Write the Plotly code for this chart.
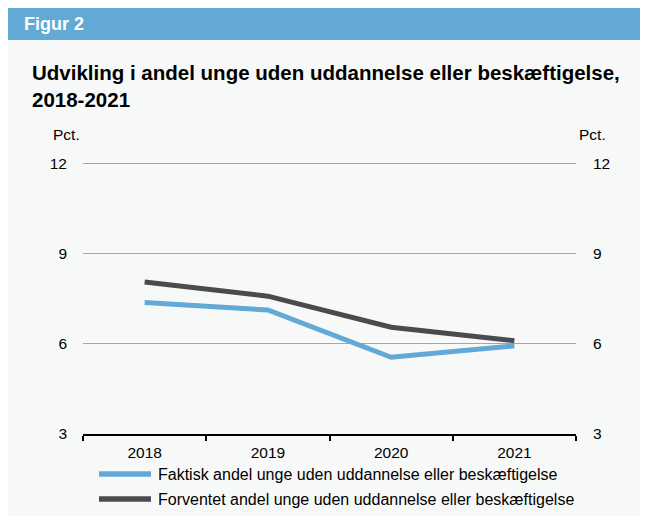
import plotly.graph_objects as go

years = ["2018", "2019", "2020", "2021"]
faktisk = [7.37, 7.12, 5.55, 5.93]
forventet = [8.05, 7.58, 6.55, 6.1]
y_ticks = [3, 6, 9, 12]
names = [
    "Faktisk andel unge uden uddannelse eller beskæftigelse",
    "Forventet andel unge uden uddannelse eller beskæftigelse",
]

blue = "#62a9d6"
dark = "#4a4b50"
bg = "#f7f9f9"
font = "Liberation Sans, Arial, sans-serif"

# figure is 640x508, the page adds an 8px white margin top/left
W, H = 640, 508
L, R, T, B = 75, 72, 154, 82
PW, PH = W - L - R, H - T - B


def px(x):
    return (x - L) / PW


def py(y):
    return 1 - (y - T) / PH


fig = go.Figure()
for vals, name, col in [(faktisk, names[0], blue), (forventet, names[1], dark)]:
    fig.add_trace(go.Scatter(x=years, y=vals, mode="lines", name=name,
                             line=dict(color=col, width=5)))
# right axis only for the tick labels
fig.add_trace(go.Scatter(x=years, y=forventet, yaxis="y2", mode="lines",
                         line=dict(width=0), showlegend=False, hoverinfo="skip"))

fig.update_layout(
    width=W, height=H,
    paper_bgcolor=bg, plot_bgcolor=bg,
    font=dict(family=font, size=15.5, color="#000"),
    margin=dict(l=L, r=R, t=T, b=B),
    showlegend=False,
    xaxis=dict(
        type="category", range=[-0.5, 3.5], tickson="boundaries",
        ticks="outside", ticklen=5, tickwidth=2, tickcolor="#000",
        showline=True, linecolor="#000", linewidth=2, showgrid=False,
        ticklabelstandoff=3,
    ),
    yaxis=dict(
        range=[3, 12.04], tickvals=y_ticks, showgrid=True, gridcolor="#a6a6a6", gridwidth=1,
        zeroline=False, showline=False, ticks="", ticklabelstandoff=15,
    ),
    yaxis2=dict(
        range=[3, 12.04], tickvals=y_ticks, overlaying="y", side="right", showgrid=False,
        zeroline=False, showline=False, ticks="", ticklabelstandoff=16,
    ),
)

# header bar
fig.add_shape(type="rect", xref="paper", yref="paper", layer="below",
              x0=px(0), x1=px(W), y0=py(32), y1=py(0),
              fillcolor=blue, line_width=0)
fig.add_annotation(text="<b>Figur 2</b>", xref="paper", yref="paper", x=px(14), y=py(16),
                   xanchor="left", yanchor="middle", showarrow=False,
                   font=dict(size=18, color="white"))
fig.add_annotation(text="<b>Udvikling i andel unge uden uddannelse eller beskæftigelse,<br>2018-2021</b>",
                   xref="paper", yref="paper", x=px(22), y=py(78),
                   xanchor="left", yanchor="middle", align="left", showarrow=False,
                   font=dict(size=20.5, color="black"))
fig.add_annotation(text="Pct.", xref="paper", yref="paper", x=px(43), y=py(127),
                   xanchor="left", yanchor="middle", showarrow=False, font=dict(size=15.5))
fig.add_annotation(text="Pct.", xref="paper", yref="paper", x=px(600), y=py(127),
                   xanchor="right", yanchor="middle", showarrow=False, font=dict(size=15.5))

# legend
for i, (name, col) in enumerate([(names[0], blue), (names[1], dark)]):
    yy = 466 + 25 * i
    fig.add_shape(type="line", xref="paper", yref="paper", x0=px(91), x1=px(143),
                  y0=py(yy), y1=py(yy), line=dict(color=col, width=5.5), layer="above")
    fig.add_annotation(text=name, xref="paper", yref="paper", x=px(148), y=py(yy),
                       xanchor="left", yanchor="middle", showarrow=False, font=dict(size=16))

fig.write_html("out.html")
